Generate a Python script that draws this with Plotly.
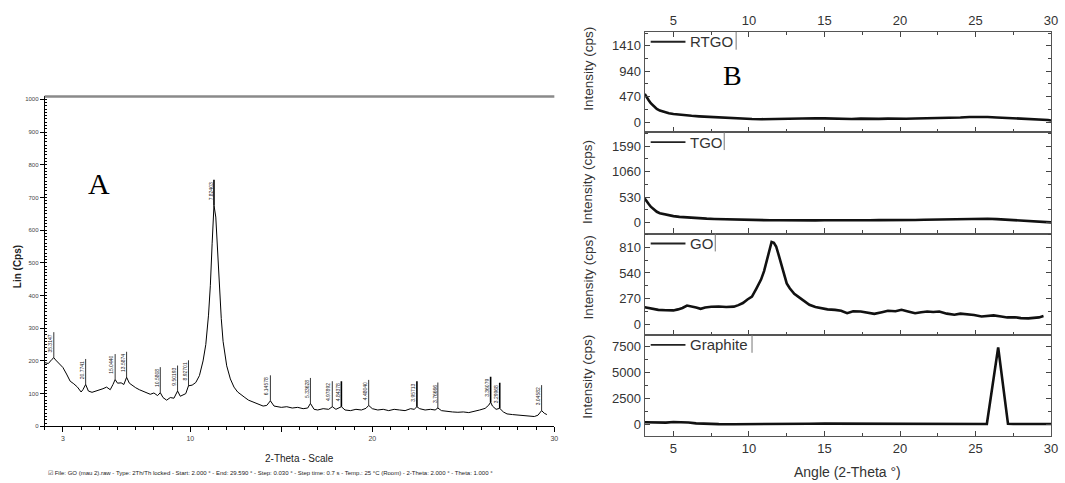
import plotly.graph_objects as go

# ---------------- Panel A data (GO, Bruker scan) ----------------
a_theta = [2.0, 2.2, 2.4, 2.5, 2.6, 2.8, 3.0, 3.2, 3.4, 3.6, 3.8, 4.0, 4.1, 4.25, 4.4, 4.6, 4.8, 5.0,
           5.2, 5.4, 5.6, 5.75, 5.87, 6.0, 6.2, 6.35, 6.5, 6.65, 6.8, 7.0, 7.2, 7.4, 7.6, 7.8, 8.0,
           8.2, 8.35, 8.5, 8.7, 8.9, 9.1, 9.3, 9.45, 9.6, 9.75, 9.9, 10.1, 10.3, 10.5, 10.7, 10.85,
           11.0, 11.1, 11.2, 11.3, 11.4, 11.5, 11.6, 11.7, 11.8, 11.9, 12.0, 12.2, 12.4, 12.6, 12.8,
           13.0, 13.2, 13.4, 13.6, 13.8, 14.0, 14.2, 14.4, 14.6, 14.8, 15.0, 15.3, 15.6, 15.9, 16.2,
           16.45, 16.6, 16.8, 17.0, 17.3, 17.6, 17.8, 18.0, 18.3, 18.5, 18.8, 19.1, 19.4, 19.65, 19.8,
           20.0, 20.3, 20.6, 20.9, 21.2, 21.5, 21.8, 22.1, 22.3, 22.45, 22.6, 22.9, 23.2, 23.45, 23.6,
           23.8, 24.1, 24.4, 24.7, 25.0, 25.3, 25.6, 25.9, 26.2, 26.4, 26.5, 26.6, 26.8, 27.0, 27.2,
           27.4, 27.7, 28.0, 28.3, 28.6, 28.9, 29.1, 29.3, 29.45, 29.59]
a_counts = [195, 192, 205, 210, 203, 192, 180, 160, 138, 130, 120, 105, 112, 128, 108, 104, 107, 110,
            115, 120, 112, 128, 143, 132, 133, 128, 150, 132, 125, 118, 112, 108, 104, 98, 102,
            94, 103, 88, 80, 88, 86, 108, 92, 95, 100, 124, 126, 134, 155, 200, 250,
            340, 430, 560, 676, 640, 530, 420, 330, 260, 215, 185, 145, 120, 105, 95,
            88, 80, 76, 70, 66, 62, 64, 78, 62, 60, 58, 60, 56, 58, 54,
            56, 70, 52, 50, 54, 52, 60, 52, 60, 50, 48, 52, 50, 55, 64,
            54, 50, 52, 48, 52, 50, 48, 54, 52, 60, 54, 50, 52, 50, 56,
            48, 45, 44, 43, 44, 42, 45, 50, 55, 65, 74, 62, 52, 55, 44,
            38, 36, 35, 33, 32, 30, 34, 48, 40, 36]

a_peak_theta = [2.5, 4.25, 5.87, 6.5, 8.35, 9.3, 9.9, 11.3, 14.4, 16.6, 17.8, 18.3, 19.8, 22.45,
                23.6, 26.5, 27.0, 29.3]
a_peak_counts = [210, 128, 143, 150, 103, 108, 124, 676, 78, 70, 60, 60, 64, 60, 56, 74, 55, 48]
a_peak_labels = ["35.3147", "20.7741", "15.0440", "13.5874", "10.5808", "9.50193", "8.92701",
                 "7.82403", "6.14578", "5.33628", "4.97892", "4.84378", "4.48040", "3.95713",
                 "3.76666", "3.36079", "3.29968", "3.04582"]
a_peak_bold = [False, False, False, False, False, False, False, True, False, False, False, True,
               False, True, False, True, True, False]

a_xticks = [3, 10, 15, 20, 30]
a_xticktext = ["3", "10", "", "20", "30"]
a_yticks = [0, 100, 200, 300, 400, 500, 600, 700, 800, 900, 1000]

# ---------------- Panel B data ----------------
b_theta_rt = [3.1, 3.2, 3.35, 3.5, 3.7, 3.9, 4.1, 4.4, 4.7, 5.0, 5.4, 5.8, 6.2, 6.7, 7.2, 7.7, 8.2,
              8.7, 9.2, 9.7, 10.2, 10.8, 11.4, 12.0, 12.6, 13.2, 13.8, 14.4, 15.0, 15.6, 16.2, 16.8,
              17.4, 18.0, 18.6, 19.2, 19.8, 20.4, 21.0, 21.6, 22.2, 22.8, 23.4, 24.0, 24.6, 25.2,
              25.8, 26.4, 27.0, 27.6, 28.2, 28.8, 29.4, 29.8, 30.0]
rtgo = [520, 470, 410, 350, 290, 245, 215, 185, 165, 150, 135, 125, 118, 108, 100, 88, 80,
        72, 68, 60, 58, 55, 60, 52, 58, 62, 66, 74, 70, 64, 68, 60,
        66, 58, 62, 66, 60, 64, 68, 70, 74, 78, 84, 88, 96, 102,
        96, 88, 80, 72, 68, 60, 55, 40, 30]
tgo = [500, 450, 390, 330, 270, 225, 195, 170, 150, 135, 120, 108, 100, 90, 82, 75, 70,
       64, 60, 55, 52, 50, 48, 50, 46, 48, 50, 47, 49, 46, 48, 50,
       47, 49, 52, 50, 48, 52, 55, 58, 62, 66, 72, 76, 80, 84,
       80, 72, 62, 52, 45, 40, 30, 15, 5]

b_theta_go = [3.1, 3.5, 4.0, 4.5, 5.0, 5.3, 5.6, 5.9, 6.2, 6.5, 6.8, 7.1, 7.5, 8.0, 8.5, 9.0, 9.3,
              9.6, 9.9, 10.2, 10.5, 10.8, 11.0, 11.2, 11.35, 11.5, 11.65, 11.8, 11.95, 12.1, 12.3,
              12.5, 12.7, 13.0, 13.3, 13.7, 14.0, 14.4, 14.8, 15.2, 15.7, 16.1, 16.5, 16.9, 17.4,
              17.9, 18.3, 18.8, 19.2, 19.7, 20.1, 20.6, 21.0, 21.4, 21.8, 22.2, 22.6, 23.1, 23.6,
              24.0, 24.5, 24.9, 25.4, 25.8, 26.2, 26.7, 27.1, 27.6, 28.0, 28.5, 28.9, 29.2, 29.5]
go_counts = [178, 165, 150, 146, 144, 155, 170, 196, 188, 176, 161, 175, 182, 186, 180, 184, 200,
             222, 260, 290, 378, 470, 560, 690, 790, 868, 860, 820, 740, 650, 520,
             430, 378, 320, 285, 240, 203, 180, 168, 155, 150, 140, 115, 135, 133,
             118, 108, 125, 140, 135, 150, 130, 115, 125, 133, 128, 133, 110, 98,
             110, 105, 95, 80, 85, 91, 80, 70, 72, 63, 60, 63, 70, 84]

b_theta_gr = [3.1, 3.5, 4.0, 4.5, 5.0, 5.5, 6.0, 6.5, 7.0, 7.5, 8.0, 9.0, 10.0, 11.0, 12.0, 13.0,
              14.0, 15.0, 16.0, 17.0, 17.2, 18.0, 19.0, 20.0, 21.0, 22.0, 23.0, 23.5, 24.0, 24.5,
              25.0, 25.5, 25.75, 26.5, 27.15, 27.5, 28.0, 28.5, 29.0, 29.5, 30.0]
graphite = [200, 180, 150, 170, 230, 240, 180, 100, 60, 30, 20, 15, 10, 20, 30, 50,
            60, 70, 70, 70, 20, 15, 15, 20, 20, 15, 20, 30, 45, 30,
            25, 20, 40, 7450, 50, 30, 20, 20, 25, 30, 30]

b_names = ["RTGO", "TGO", "GO", "Graphite"]
b_yticks = [[0, 470, 940, 1410], [0, 530, 1060, 1590], [0, 270, 540, 810], [0, 2500, 5000, 7500]]
b_yranges = [[-184, 1668], [-227, 1878], [-115, 957], [-1150, 8650]]
b_xticks = [5, 10, 15, 20, 25, 30]

# ---------------- Layout geometry (pixels of 1065 x 483) ----------------
W, H = 1065, 483
def px(x):
    return x / W
def py(y):
    return 1 - y / H

b_tops = [32, 133, 235, 337]
b_bots = [133, 235, 337, 439]
b_title_mid = [69, 183, 279, 379]
b_legend_bar = [741, 729, 720, 757]

fig = go.Figure()

# Panel A trace
fig.add_trace(go.Scatter(x=a_theta, y=a_counts, mode="lines", line=dict(color="black", width=1),
                         xaxis="x", yaxis="y", showlegend=False, hoverinfo="skip"))

# Panel B traces
b_series = [(b_theta_rt, rtgo), (b_theta_rt, tgo), (b_theta_go, go_counts), (b_theta_gr, graphite)]
for i, (xs, ys) in enumerate(b_series):
    n = i + 2
    fig.add_trace(go.Scatter(x=xs, y=ys, mode="lines", line=dict(color="#111111", width=2.6),
                             xaxis=f"x{n}", yaxis=f"y{n}", showlegend=False, hoverinfo="skip"))

layout = dict(
    width=W, height=H, margin=dict(l=0, r=0, t=0, b=0),
    paper_bgcolor="white", plot_bgcolor="white",
    font=dict(family="Arial, Liberation Sans, sans-serif", color="#333"),
)

# Panel A axes
layout["xaxis"] = dict(domain=[px(45), px(558)], range=[2, 30], anchor="y",
                       tickvals=a_xticks, ticktext=a_xticktext, ticks="outside", ticklen=5,
                       tickcolor="black", showline=True, linecolor="black", linewidth=1,
                       showgrid=False, zeroline=False, tickfont=dict(size=7, color="#444"),
                       minor=dict(dtick=1, tick0=2, ticks="outside", ticklen=3, tickcolor="black"))
layout["yaxis"] = dict(domain=[py(429), py(97)], range=[0, 1009], anchor="x",
                       tickvals=a_yticks, ticks="outside", ticklen=4, tickcolor="black",
                       showline=True, linecolor="black", linewidth=1, showgrid=False, zeroline=False,
                       tickfont=dict(size=6, color="#444"),
                       minor=dict(dtick=10, tick0=0, ticks="inside", ticklen=2, tickcolor="black"))

# Panel B axes
for i in range(4):
    n = i + 2
    xa = dict(domain=[px(649), px(1058)], range=[3.1, 30], anchor=f"y{n}",
              tickvals=b_xticks, ticks="inside", ticklen=5, tickcolor="#444",
              showline=True, linecolor="#555", linewidth=1.3, showgrid=False, zeroline=False,
              tickfont=dict(size=13, color="#333"),
              minor=dict(dtick=2.5, tick0=2.5, ticks="inside", ticklen=3, tickcolor="#444"))
    if i == 0:
        xa.update(side="top", showticklabels=True, mirror="ticks")
    elif i == 3:
        xa.update(side="bottom", showticklabels=True, mirror=True)
    else:
        xa.update(showticklabels=False, mirror=True)
    layout[f"xaxis{n}"] = xa
    step = b_yticks[i][1]
    layout[f"yaxis{n}"] = dict(domain=[py(b_bots[i]), py(b_tops[i])], range=b_yranges[i],
                               anchor=f"x{n}", tickvals=b_yticks[i], ticks="inside", ticklen=5,
                               tickcolor="#444", showline=True, linecolor="#555", linewidth=1.3,
                               mirror="ticks", showgrid=False, zeroline=False,
                               tickfont=dict(size=13, color="#333"),
                               minor=dict(dtick=step / 2, tick0=0, ticks="inside", ticklen=3,
                                          tickcolor="#444"))

fig.update_layout(**layout)

annotations = []
shapes = []

def note(x, y, text, size, color="#333", family=None, angle=0, xanchor="center",
         yanchor="middle"):
    f = dict(size=size, color=color)
    if family:
        f["family"] = family
    return dict(x=px(x), y=py(y), xref="paper", yref="paper", text=text, showarrow=False,
                textangle=angle, xanchor=xanchor, yanchor=yanchor, font=f)

# Panel A peak markers
for t, c, lab, bold in zip(a_peak_theta, a_peak_counts, a_peak_labels, a_peak_bold):
    shapes.append(dict(type="line", xref="x", yref="y", x0=t, x1=t, y0=c, y1=c + 78,
                       line=dict(color="black", width=1.6 if bold else 0.8)))
    annotations.append(dict(x=t, y=c + 44, xref="x", yref="y", text=lab, showarrow=False,
                            textangle=-90, xshift=-3.5, font=dict(size=5, color="#222"),
                            xanchor="center", yanchor="middle"))

# Panel A top gray border
shapes.append(dict(type="line", xref="x domain", yref="y domain", x0=0, x1=1, y0=1, y1=1,
                   line=dict(color="#8a8a8a", width=2.5)))

serif = "Times New Roman, Liberation Serif, serif"
# Panel A texts
annotations += [
    note(100, 185, "A", 30, "black", serif),
    note(17, 268, "<b>Lin (Cps)</b>", 10, "#222", angle=-90),
    note(301, 461, "2-Theta - Scale", 10, "#222"),
    note(46, 476, "☑ File: GO (mau 2).raw - Type: 2Th/Th locked - Start: 2.000 ° - End: 29.590 ° - "
                  "Step: 0.030 ° - Step time: 0.7 s - Temp.: 25 °C (Room) - 2-Theta: 2.000 ° - "
                  "Theta: 1.000 °", 6, "#222", xanchor="left"),
]

# Panel B texts
annotations.append(note(737, 76, "B", 28, "black", serif))
annotations.append(note(853, 475, "Angle (2-Theta °)", 14, "#333"))
for i in range(4):
    annotations.append(note(592, b_title_mid[i], "Intensity (cps)", 13.5, "#333", angle=-90))
    ly = b_tops[i] + 10
    shapes.append(dict(type="line", xref="paper", yref="paper", x0=px(655), x1=px(690),
                       y0=py(ly), y1=py(ly), line=dict(color="#222", width=1.8)))
    annotations.append(note(693, ly, b_names[i], 15, "#333", xanchor="left"))
    shapes.append(dict(type="line", xref="paper", yref="paper", x0=px(b_legend_bar[i]),
                       x1=px(b_legend_bar[i]), y0=py(b_tops[i]), y1=py(b_tops[i] + 18),
                       line=dict(color="#777", width=1)))

fig.update_layout(annotations=annotations, shapes=shapes)

fig.write_html("out.html", config={"displayModeBar": False},
               post_script="document.body.style.margin='0';")
